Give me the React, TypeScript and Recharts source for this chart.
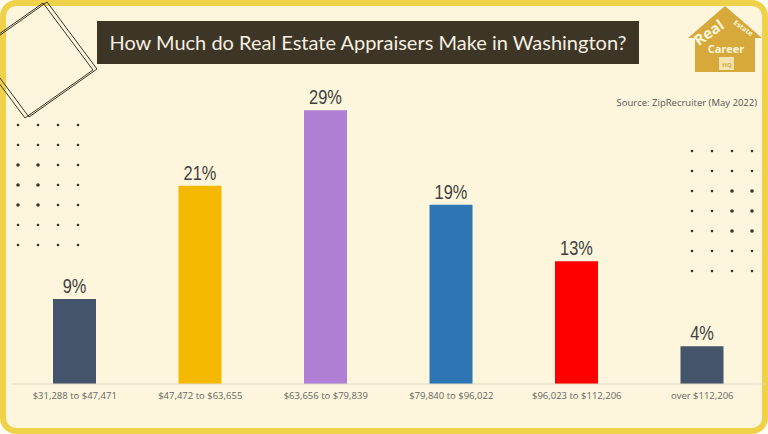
import { BarChart, Bar, XAxis, YAxis, Cell, LabelList } from 'recharts'

const ranges = [
  '$31,288 to $47,471',
  '$47,472 to $63,655',
  '$63,656 to $79,839',
  '$79,840 to $96,022',
  '$96,023 to $112,206',
  'over $112,206',
]
const shares = [9, 21, 29, 19, 13, 4]

const barColors = ['#44546a', '#f5b800', '#b07fd6', '#2e75b6', '#ff0000', '#44546a']

const chartData = ranges.map((range, i) => ({ range, share: shares[i] }))

const dotCols = [0, 1, 2, 3]
const dotRows = [0, 1, 2, 3, 4, 5, 6]

const Decorations = () => {
  const sq = (dx: number, dy: number) => {
    const pts = [
      [43 + dx, 3 + dy],
      [93 + dx, 70 + dy],
      [25 + dx, 118 + dy],
      [-25 + dx, 51 + dy],
    ]
    return pts.map((p) => p.join(',')).join(' ')
  }
  return (
    <svg width={768} height={434} style={{ position: 'absolute', left: 0, top: 0 }}>
      <polygon points={sq(0, 0)} fill="none" stroke="#3d3526" strokeWidth={1} />
      <polygon points={sq(4, -1)} fill="none" stroke="#3d3526" strokeWidth={1} />
      {dotRows.map((r) =>
        dotCols.map((c) => (
          <circle
            key={`l-${r}-${c}`}
            cx={18 + c * 20}
            cy={125 + r * 20}
            r={r >= 2 && r <= 4 && c < 2 ? 1.8 : 1.3}
            fill="#3d3526"
          />
        ))
      )}
      {dotRows.map((r) =>
        dotCols.map((c) => (
          <circle
            key={`r-${r}-${c}`}
            cx={692 + c * 20}
            cy={151 + r * 20}
            r={r >= 2 && r <= 4 && c > 1 ? 1.8 : 1.3}
            fill="#3d3526"
          />
        ))
      )}
      {/* logo */}
      <g>
        <polygon points="725,6 762,38 755,38 755,72 695,72 695,38 688,38" fill="#d6a93a" />
        <rect x={719} y={57} width={15} height={13} fill="#f3e3b0" />
        <text x={727} y={67} fontSize={6} fontWeight={700} fill="#d6a93a" textAnchor="middle" fontFamily="Open Sans">HQ</text>
        <text x={712} y={37} fontSize={15} fontWeight={700} fill="#fdf6dc" textAnchor="middle" fontFamily="Open Sans" transform="rotate(-35 712 37)">Real</text>
        <text x={742} y={30} fontSize={7} fontWeight={700} fill="#fdf6dc" textAnchor="middle" fontFamily="Open Sans" transform="rotate(35 742 30)">Estate</text>
        <text x={726} y={53} fontSize={11} fontWeight={700} fill="#fdf6dc" textAnchor="middle" fontFamily="Open Sans">Career</text>
      </g>
    </svg>
  )
}

const PctLabel = (props: any) => {
  const { x, y, width, value } = props
  const cx = x + width / 2
  return (
    <text
      x={cx}
      y={y - 6}
      textAnchor="middle"
      fontSize={20}
      fill="#404040"
      fontFamily='"Liberation Sans", Arial, sans-serif'
      transform={`translate(${cx} 0) scale(0.82 1) translate(${-cx} 0)`}
    >
      {`${value}%`}
    </text>
  )
}

export default function App() {
  return (
    <div style={{ position: 'absolute', left: 0, top: 0, width: 768, height: 434, background: '#fffdf4' }}>
      <div
        style={{
          position: 'absolute',
          left: 0,
          top: 0,
          width: 768,
          height: 434,
          boxSizing: 'border-box',
          border: '6px solid #f0d24a',
          borderRadius: 16,
          background: '#fdf6dc',
        }}
      />
      <Decorations />
      <div
        style={{
          position: 'absolute',
          left: 97,
          top: 21,
          width: 542,
          height: 43,
          background: '#3d3526',
          color: '#f5efe0',
          fontFamily: 'Lato, sans-serif',
          fontSize: 20,
          lineHeight: '43px',
          textAlign: 'center',
        }}
      >
        How Much do Real Estate Appraisers Make in Washington?
      </div>
      <div
        style={{
          position: 'absolute',
          right: 11,
          top: 96,
          fontFamily: '"Open Sans", sans-serif',
          fontSize: 9.5,
          color: '#555',
        }}
      >
        Source: ZipRecruiter (May 2022)
      </div>
      <div style={{ position: 'absolute', left: 0, top: 0 }}>
        <BarChart
          width={768}
          height={434}
          data={chartData}
          margin={{ top: 82, right: 3, left: 12, bottom: 20 }}
        >
          <XAxis
            dataKey="range"
            height={30}
            tickLine={false}
            axisLine={{ stroke: '#ddd8c8' }}
            interval={0}
            tick={{ fontSize: 9.5, fill: '#666', fontFamily: '"Open Sans", sans-serif' }}
          />
          <YAxis hide domain={[0, 32]} />
          <Bar dataKey="share" barSize={43} isAnimationActive={false}>
            {chartData.map((_, i) => (
              <Cell key={`cell-${i}`} fill={barColors[i]} />
            ))}
            <LabelList dataKey="share" content={<PctLabel />} />
          </Bar>
        </BarChart>
      </div>
    </div>
  )
}
